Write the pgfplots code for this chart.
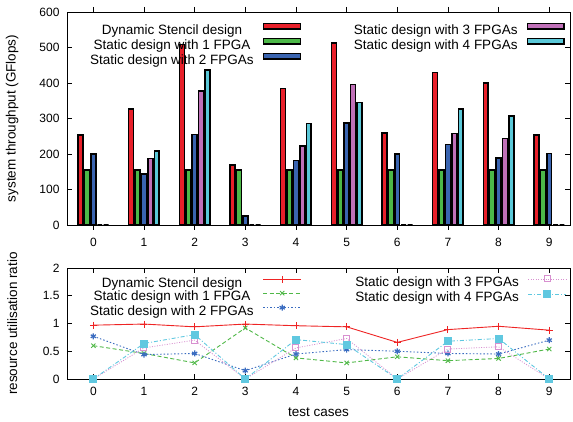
\documentclass[border=0pt]{standalone}
\usepackage{fontspec}
\setmainfont{Liberation Sans}
\usepackage{pgfplots}
\usepackage{pgfplotstable}
\pgfplotsset{compat=1.18}
\definecolor{cR}{HTML}{E8202A}
\definecolor{cG}{HTML}{4CB848}
\definecolor{cB}{HTML}{3A64B0}
\definecolor{cP}{HTML}{C070B8}
\definecolor{cC}{HTML}{5AC8D8}
\definecolor{lR}{HTML}{EE2424}
\definecolor{lG}{HTML}{50B848}
\definecolor{lB}{HTML}{3A6CC0}
\definecolor{lP}{HTML}{D890D0}
\definecolor{lC}{HTML}{60C8E0}

\pgfplotstableread{
x R G B P C
0 253 155 200 0 0
1 327 155 143 187 208
2 509 155 255 378 436
3 169 155 25 0 0
4 384 155 181 223 286
5 512 155 287 396 345
6 259 155 200 0 0
7 429 155 227 258 327
8 400 155 189 244 307
9 254 155 201 0 0
}\thrdata

\pgfplotstableread{
x R G B P C
0 0.97 0.60 0.77 0 0
1 0.99 0.46 0.44 0.56 0.64
2 0.94 0.29 0.46 0.70 0.80
3 0.99 0.92 0.15 0 0
4 0.96 0.38 0.45 0.56 0.71
5 0.94 0.29 0.53 0.73 0.62
6 0.66 0.40 0.50 0 0
7 0.89 0.33 0.46 0.54 0.68
8 0.95 0.37 0.45 0.58 0.73
9 0.88 0.54 0.70 0 0
}\utildata

\pgfplotsset{
  base/.style={
    scale only axis, width=503pt, xmin=-0.52, xmax=9.41,
    xtick={0,...,9},
    tick align=inside, major tick length=5pt,
    tick style={black, line width=0.6pt},
    axis line style={line width=0.8pt},
    /pgf/number format/assume math mode=true,
    tick label style={font=\fontsize{12}{14}\selectfont},
    label style={font=\fontsize{13.5}{16}\selectfont},
    xticklabel style={yshift=-5pt},
    yticklabel style={xshift=-4pt},
    legend style={draw=none, fill=none, inner sep=0pt, column sep=9pt, row sep=0pt,
      font=\fontsize{13.5}{16}\selectfont,
      nodes={inner sep=0pt, text height=9.7pt, text depth=3.8pt}},
    legend plot pos=right, legend cell align=center,
    clip=false,
  },
  topax/.style={base, at={(67pt,-225pt)}, anchor=south west, height=213pt,
    ymin=0, ymax=600, ytick={0,100,...,600},
    ybar, bar width=4.9pt,
    legend image code/.code={\draw[##1, line width=1.5pt] (0.75pt,2pt) rectangle (37.5pt,7.5pt);},
  },
  botax/.style={base, at={(67pt,-379pt)}, anchor=south west, height=111pt,
    ymin=0, ymax=2, ytick={0,0.5,1,1.5,2},
    legend image code/.code={\draw[##1, mark repeat=2, mark phase=2] plot coordinates {(0pt,4.8pt) (19pt,4.8pt) (38pt,4.8pt)};},
  },
  barst/.style={draw=black, line width=1.5pt, fill=#1},
}

\begin{document}
\begin{tikzpicture}
\path[use as bounding box] (0,0) rectangle (573pt,-422pt);

% ---- top: throughput ----
\begin{axis}[topax,
  ylabel={system throughput (GFlops)},
  ylabel style={at={(axis description cs:-0.109,0.5)}, anchor=center},
  legend style={at={(axis description cs:0.0457,0.950)}, anchor=north west}]
\addplot[barst=cR, bar shift=-12.8pt] table[x=x, y=R] {\thrdata};
\addlegendentry{Dynamic Stencil design}
\addplot[barst=cG, bar shift=-6.4pt] table[x=x, y=G] {\thrdata};
\addlegendentry{Static design with 1 FPGA}
\addplot[barst=cB, bar shift=0pt] table[x=x, y=B] {\thrdata};
\addlegendentry{Static design with 2 FPGAs}
\end{axis}
\begin{axis}[topax, hide axis,
  legend style={at={(axis description cs:0.990,0.950)}, anchor=north east}]
\addplot[barst=cP, bar shift=6.4pt] table[x=x, y=P] {\thrdata};
\addlegendentry{Static design with 3 FPGAs}
\addplot[barst=cC, bar shift=12.8pt] table[x=x, y=C] {\thrdata};
\addlegendentry{Static design with 4 FPGAs}
\end{axis}

% ---- bottom: utilisation ----
\begin{axis}[botax,
  xlabel={test cases},
  xlabel style={at={(axis description cs:0.5,0)}, yshift=-33pt, anchor=center},
  ylabel={resource utilisation ratio},
  ylabel style={at={(axis description cs:-0.109,0.5)}, anchor=center},
  legend style={at={(axis description cs:0.0457,0.930)}, anchor=north west}]
\addplot[color=lR, line width=0.9pt, mark=+, mark size=3.5pt] table[x=x, y=R] {\utildata};
\addlegendentry{Dynamic Stencil design}
\addplot[color=lG, line width=0.9pt, dash pattern=on 4pt off 2.5pt, mark=x, mark size=3pt, mark options={solid}] table[x=x, y=G] {\utildata};
\addlegendentry{Static design with 1 FPGA}
\addplot[color=lB, line width=0.9pt, dash pattern=on 1.5pt off 2pt, mark=asterisk, mark size=3pt, mark options={solid, line width=1.2pt}] table[x=x, y=B] {\utildata};
\addlegendentry{Static design with 2 FPGAs}
\end{axis}
\begin{axis}[botax, hide axis,
  legend style={at={(axis description cs:0.994,0.930)}, anchor=north east}]
\addplot[color=lP, line width=0.8pt, dash pattern=on 1pt off 1.5pt, mark=square, mark size=3pt, mark options={solid, line width=1pt}] table[x=x, y=P] {\utildata};
\addlegendentry{Static design with 3 FPGAs}
\addplot[color=lC, line width=0.9pt, dash pattern=on 4pt off 2pt on 1pt off 2pt, mark=square*, mark size=3.5pt, mark options={solid}] table[x=x, y=C] {\utildata};
\addlegendentry{Static design with 4 FPGAs}
\end{axis}
\end{tikzpicture}
\end{document}
